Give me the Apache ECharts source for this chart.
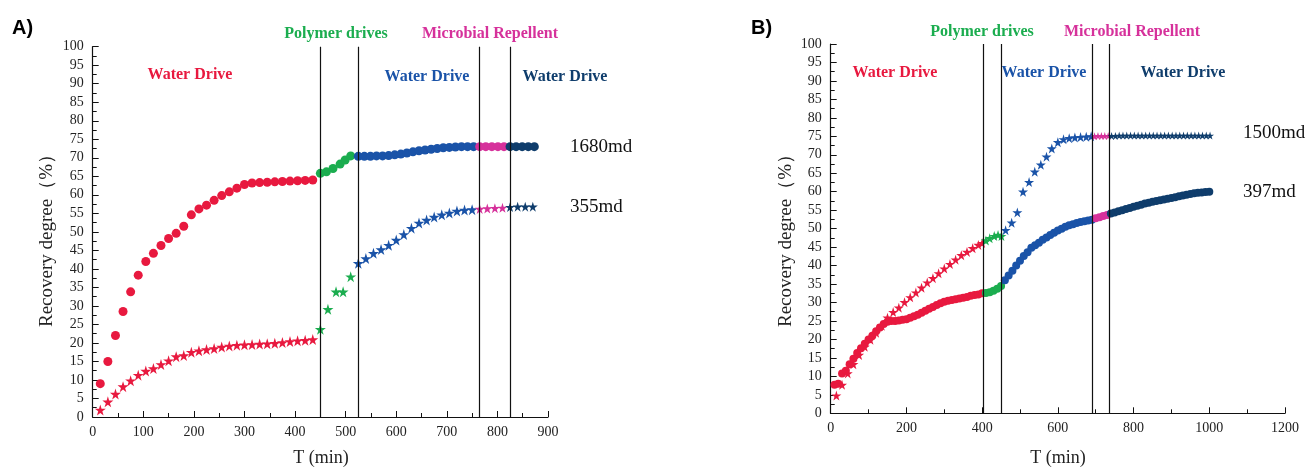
<!DOCTYPE html>
<html>
<head>
<meta charset="utf-8">
<script src="https://cdn.jsdelivr.net/npm/echarts@6/dist/echarts.min.js"></script>
<style>
  html, body { margin: 0; padding: 0; background: #fff; }
  #chart { width: 1309px; height: 469px; }
</style>
</head>
<body>
<div id="chart"></div>
<script>
// ---- panel A (times in min, recovery in %) ----
const aRedT = [15, 30, 45, 60, 75, 90, 105, 120, 135, 150, 165, 180, 195, 210, 225, 240, 255, 270, 285, 300, 315, 330, 345, 360, 375, 390, 405, 420, 435];
const aRedCirc = [9, 15, 22, 28.5, 33.8, 38.3, 42, 44.2, 46.3, 48.2, 49.6, 51.5, 54.6, 56.2, 57.2, 58.5, 59.8, 60.8, 61.8, 62.8, 63.2, 63.3, 63.4, 63.5, 63.6, 63.7, 63.8, 63.9, 64];
const aRedStar = [1.9, 4.1, 6.2, 8.2, 9.8, 11.3, 12.4, 13.1, 14.2, 15.2, 16.3, 16.6, 17.5, 17.9, 18.2, 18.5, 18.9, 19.2, 19.4, 19.5, 19.6, 19.7, 19.8, 19.9, 20.1, 20.4, 20.6, 20.7, 20.9];

const aGreenCircT = [450, 462, 475, 489, 499, 510];
const aGreenCirc = [65.8, 66.2, 67.1, 68.3, 69.4, 70.5];
const aGreenStarT = [450, 465, 481, 495, 510];
const aGreenStar = [23.7, 29.1, 33.8, 33.8, 37.9];

const aBlueCircT = [525, 537, 549, 561, 573, 585, 597, 609, 621, 633, 645, 657, 669, 681, 693, 705, 717, 729, 741, 753];
const aBlueCirc = [70.4, 70.4, 70.4, 70.5, 70.5, 70.6, 70.8, 71.0, 71.3, 71.6, 71.9, 72.1, 72.3, 72.5, 72.7, 72.8, 72.9, 73.0, 73.0, 73.0];
const aBlueStarT = [525, 540, 555, 570, 585, 600, 615, 630, 645, 660, 675, 690, 705, 720, 735, 750];
const aBlueStar = [41.5, 42.8, 44.2, 45.2, 46.4, 47.8, 49.3, 51, 52.4, 53.2, 54, 54.6, 55.1, 55.6, 55.9, 56.0];

const aPinkCircT = [765, 777, 789, 801, 813];
const aPinkCirc = [73.0, 73.0, 73.0, 73.0, 73.0];
const aPinkStarT = [765, 780, 795, 810];
const aPinkStar = [56.2, 56.3, 56.4, 56.5];

const aNavyCircT = [825, 837, 849, 861, 873];
const aNavyCirc = [73.0, 73.0, 73.0, 73.0, 73.0];
const aNavyStarT = [825, 840, 855, 870];
const aNavyStar = [56.7, 56.8, 56.8, 56.8];

const aLines = [450, 525, 765, 825];

// ---- panel B ----
const bRedCircT = [10, 20, 30, 40, 50, 60, 70, 80, 90, 100, 110, 120, 130, 140, 150, 160, 170, 180, 190, 200, 210, 220, 230, 240, 250, 260, 270, 280, 290, 300, 310, 320, 330, 340, 350, 360, 370, 380, 390, 400];
const bRedCirc = [7.7, 8.0, 10.8, 11.5, 13.3, 14.8, 16.3, 17.6, 18.8, 20.0, 21.0, 22.2, 23.2, 24.2, 24.8, 25.0, 25.0, 25.1, 25.3, 25.5, 25.9, 26.3, 26.7, 27.2, 27.8, 28.3, 28.8, 29.3, 29.8, 30.2, 30.5, 30.7, 30.9, 31.1, 31.3, 31.5, 31.8, 32.0, 32.2, 32.5];
const bRedStarT = [15, 30, 45, 60, 75, 90, 105, 120, 135, 150, 165, 180, 195, 210, 225, 240, 255, 270, 285, 300, 315, 330, 345, 360, 375, 390, 400];
const bRedStar = [4.8, 7.7, 10.8, 13.3, 15.8, 18.0, 19.9, 21.8, 23.7, 25.9, 27.4, 28.6, 30.1, 31.4, 32.7, 34.0, 35.4, 36.6, 37.9, 39.2, 40.4, 41.6, 42.8, 43.7, 44.7, 45.6, 46.1];

const bGreenCircT = [410, 420, 430, 440, 450];
const bGreenCirc = [32.6, 32.8, 33.2, 33.7, 34.5];
const bGreenStarT = [410, 420, 432, 442, 451];
const bGreenStar = [46.8, 47.4, 48.0, 48.3, 48.0];

const bBlueCircT = [460, 470, 480, 490, 500, 510, 520, 530, 540, 550, 560, 570, 580, 590, 600, 610, 620, 630, 640, 650, 660, 670, 680, 690];
const bBlueCirc = [36.0, 37.3, 38.6, 40.0, 41.3, 42.6, 43.6, 44.8, 45.5, 46.2, 47.0, 47.6, 48.3, 48.9, 49.5, 50.0, 50.5, 50.9, 51.2, 51.5, 51.8, 52.0, 52.2, 52.4];
const bBlueStarT = [462, 478, 493, 508, 524, 539, 555, 570, 584, 600, 615, 630, 645, 660, 675, 688];
const bBlueStar = [49.6, 51.6, 54.4, 60.0, 62.6, 65.4, 67.3, 69.5, 71.7, 73.4, 74.2, 74.5, 74.7, 74.8, 74.9, 75.0];

const bPinkCircT = [700, 710, 720, 730];
const bPinkCirc = [52.8, 53.1, 53.4, 53.7];
const bPinkStarT = [697, 706, 715, 724, 733];
const bPinkStar = [75.0, 75.1, 75.1, 75.1, 75.1];

const bNavyCircT = [740, 750, 760, 770, 780, 790, 800, 810, 820, 830, 840, 850, 860, 870, 880, 890, 900, 910, 920, 930, 940, 950, 960, 970, 980, 990, 1000];
const bNavyCirc = [54.1, 54.4, 54.7, 55.0, 55.3, 55.6, 55.9, 56.2, 56.5, 56.8, 57.0, 57.3, 57.5, 57.7, 57.9, 58.1, 58.3, 58.5, 58.8, 59.0, 59.2, 59.4, 59.6, 59.7, 59.8, 59.9, 60.0];
const bNavyStarT = [742, 752, 762, 772, 782, 792, 802, 812, 822, 832, 842, 852, 862, 872, 882, 892, 902, 912, 922, 932, 942, 952, 962, 972, 982, 992, 1002];
const bNavyStar = [75.1, 75.1, 75.2, 75.2, 75.2, 75.2, 75.2, 75.2, 75.2, 75.2, 75.2, 75.2, 75.2, 75.2, 75.2, 75.2, 75.2, 75.2, 75.2, 75.2, 75.2, 75.2, 75.2, 75.2, 75.2, 75.2, 75.2];

const bLines = [403, 450, 690, 735];

const yTicks = [0, 100, 5];
const RED = '#e8193f', GREEN = '#1bad4f', BLUE = '#1a53a8', PINK = '#d6319b', NAVY = '#0f3d6c';
const STAR = 'path://M50,0 L61,35 L98,35 L68,57 L79,91 L50,70 L21,91 L32,57 L2,35 L39,35 Z';
const SERIF = '"Liberation Serif", "Times New Roman", serif';

function pts(t, v) { return t.map((x, i) => [x, v[i]]); }

function sc(idx, t, v, color, star, size) {
  return {
    type: 'scatter', xAxisIndex: idx, yAxisIndex: idx,
    data: pts(t, v),
    symbol: star ? STAR : 'circle',
    symbolSize: size,
    itemStyle: { color: color, opacity: 1 },
    silent: true
  };
}

function vlines(list) {
  return {
    silent: true, symbol: 'none', label: { show: false }, animation: false,
    lineStyle: { color: '#111', width: 1.2, type: 'solid' },
    data: list.map(x => ({ xAxis: x }))
  };
}

function xAxis(idx, max, step) {
  return {
    type: 'value', gridIndex: idx, min: 0, max: max, interval: step,
    axisLine: { show: true, onZero: false, lineStyle: { color: '#111', width: 1.2 } },
    axisTick: { show: true, inside: true, length: 6, lineStyle: { color: '#111' } },
    minorTick: { show: true, splitNumber: 2, length: 4, lineStyle: { color: '#111' } },
    axisLabel: { color: '#222', fontFamily: SERIF, fontSize: 14, margin: 8, formatter: v => String(v) },
    splitLine: { show: false }
  };
}

function yAxis(idx) {
  return {
    type: 'value', gridIndex: idx, min: yTicks[0], max: yTicks[1], interval: yTicks[2],
    axisLine: { show: true, onZero: false, lineStyle: { color: '#111', width: 1.2 } },
    axisTick: { show: true, inside: true, length: 6, lineStyle: { color: '#111' } },
    minorTick: { show: true, splitNumber: 2, length: 4, lineStyle: { color: '#111' } },
    axisLabel: { color: '#222', fontFamily: SERIF, fontSize: 14, margin: 9 },
    splitLine: { show: false }
  };
}

function txt(x, y, s, color, size, bold, align, rot) {
  return {
    type: 'text', x: x, y: y, rotation: rot || 0, silent: true,
    style: {
      text: s, fill: color, font: (bold ? 'bold ' : '') + size + 'px ' + SERIF,
      textAlign: align || 'center', textVerticalAlign: 'middle'
    }
  };
}

const chart = echarts.init(document.getElementById('chart'));

const seriesA0 = sc(0, aRedT, aRedCirc, RED, false, 9);
seriesA0.markLine = vlines(aLines);
const seriesB0 = sc(1, bRedCircT, bRedCirc, RED, false, 8);
seriesB0.markLine = vlines(bLines);

chart.setOption({
  animation: false,
  grid: [
    { left: 92.7, top: 46.7, width: 455.3, height: 370.3 },
    { left: 830.7, top: 44, width: 454.3, height: 369.3 }
  ],
  xAxis: [xAxis(0, 900, 100), xAxis(1, 1200, 200)],
  yAxis: [yAxis(0), yAxis(1)],
  series: [
    seriesA0,
    sc(0, aRedT, aRedStar, RED, true, 11),
    sc(0, aGreenCircT, aGreenCirc, GREEN, false, 9),
    sc(0, aGreenStarT, aGreenStar, GREEN, true, 11),
    sc(0, aBlueCircT, aBlueCirc, BLUE, false, 9),
    sc(0, aBlueStarT, aBlueStar, BLUE, true, 11),
    sc(0, aPinkCircT, aPinkCirc, PINK, false, 9),
    sc(0, aPinkStarT, aPinkStar, PINK, true, 10),
    sc(0, aNavyCircT, aNavyCirc, NAVY, false, 9),
    sc(0, aNavyStarT, aNavyStar, NAVY, true, 10),
    seriesB0,
    sc(1, bRedStarT, bRedStar, RED, true, 10),
    sc(1, bGreenCircT, bGreenCirc, GREEN, false, 8),
    sc(1, bGreenStarT, bGreenStar, GREEN, true, 10),
    sc(1, bBlueCircT, bBlueCirc, BLUE, false, 8),
    sc(1, bBlueStarT, bBlueStar, BLUE, true, 10),
    sc(1, bPinkCircT, bPinkCirc, PINK, false, 8),
    sc(1, bPinkStarT, bPinkStar, PINK, true, 8),
    sc(1, bNavyCircT, bNavyCirc, NAVY, false, 8),
    sc(1, bNavyStarT, bNavyStar, NAVY, true, 8)
  ],
  graphic: [
    { type: 'text', x: 12, y: 28, silent: true,
      style: { text: 'A)', fill: '#000', font: 'bold 20px "Liberation Sans", Arial, sans-serif', textVerticalAlign: 'middle' } },
    { type: 'text', x: 751, y: 28, silent: true,
      style: { text: 'B)', fill: '#000', font: 'bold 20px "Liberation Sans", Arial, sans-serif', textVerticalAlign: 'middle' } },

    txt(47, 236, 'Recovery degree（%）', '#222', 19, false, 'center', Math.PI / 2),
    txt(321, 458, 'T (min)', '#222', 18, false),
    txt(190, 75, 'Water Drive', RED, 16, true),
    txt(336, 34, 'Polymer drives', GREEN, 16, true),
    txt(490, 34, 'Microbial Repellent', PINK, 16, true),
    txt(427, 77, 'Water Drive', BLUE, 16, true),
    txt(565, 77, 'Water Drive', NAVY, 16, true),
    txt(570, 147, '1680md', '#111', 19, false, 'left'),
    txt(570, 207, '355md', '#111', 19, false, 'left'),

    txt(786, 236, 'Recovery degree（%）', '#222', 19, false, 'center', Math.PI / 2),
    txt(1058, 458, 'T (min)', '#222', 18, false),
    txt(895, 73, 'Water Drive', RED, 16, true),
    txt(982, 32, 'Polymer drives', GREEN, 16, true),
    txt(1044, 73, 'Water Drive', BLUE, 16, true),
    txt(1132, 32, 'Microbial Repellent', PINK, 16, true),
    txt(1183, 73, 'Water Drive', NAVY, 16, true),
    txt(1243, 133, '1500md', '#111', 19, false, 'left'),
    txt(1243, 192, '397md', '#111', 19, false, 'left')
  ]
});

window.addEventListener('resize', () => chart.resize());
</script>
</body>
</html>
